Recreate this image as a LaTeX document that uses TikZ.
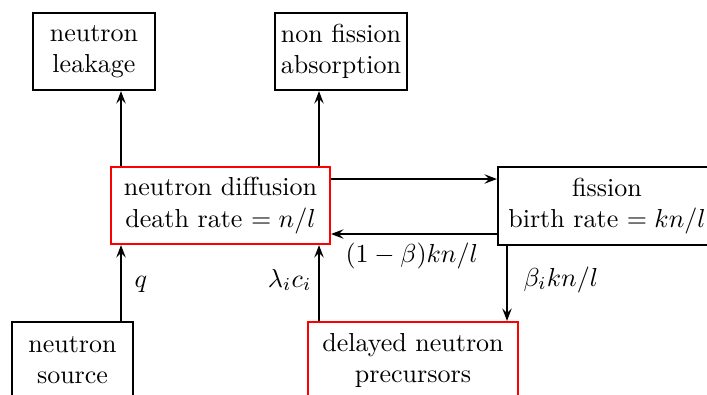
\documentclass[tikz,border=0pt]{standalone}
\usetikzlibrary{arrows.meta}
\newcommand{\pxu}{0.3846pt}
\begin{document}
\begin{tikzpicture}[x=0.3846pt,y=-0.3846pt,
  box/.style={draw, line width=0.8pt, align=center, inner sep=0pt, minimum height={77*\pxu}},
  redbox/.style={box, draw=red},
  arr/.style={line width=0.8pt, -{Stealth[length=4.8pt,width=3.6pt,inset=1.8pt]}},
  lab/.style={inner sep=0pt}]
\useasboundingbox (0,0) rectangle (707,394);
\clip (0,0) rectangle (707,394);
\node[box, minimum width={122*\pxu}] (leak) at (94,51.5) {neutron\\leakage};
\node[box, minimum width={132*\pxu}] (abs) at (341,51.5) {non fission\\absorption};
\node[redbox, minimum width={219*\pxu}] (diff) at (220.5,205.5) {neutron diffusion\\death rate $=n/l$};
\node[box, minimum width={218*\pxu}, minimum height={78*\pxu}] (fis) at (607,206) {fission\\birth rate $=kn/l$};
\node[redbox, minimum width={210*\pxu}] (prec) at (413,360.5) {delayed neutron\\precursors};
\node[box, minimum width={121*\pxu}] (src) at (72.5,360.5) {neutron\\source};
\coordinate (xa) at (121,0);
\coordinate (xb) at (319,0);
\coordinate (xc) at (507,0);
\coordinate (ya) at (0,179);
\coordinate (yb) at (0,234);
\draw[arr] (xa |- diff.north) -- (xa |- leak.south);
\draw[arr] (xb |- diff.north) -- (xb |- abs.south);
\draw[arr] (diff.east |- ya) -- (fis.west |- ya);
\draw[arr] (fis.west |- yb) -- (diff.east |- yb);
\draw[arr] (xc |- fis.south) -- (xc |- prec.north);
\draw[arr] (xa |- src.north) -- (xa |- diff.south);
\draw[arr] (xb |- prec.north) -- (xb |- diff.south);
\node[lab, anchor=base west] (lq) at (134,287) {$q$};
\node[lab, anchor=base east] (llc) at (312,287) {$\lambda_i c_i$};
\node[lab, anchor=base west] (lb) at (345,262) {$(1-\beta)kn/l$};
\node[lab, anchor=base west] (lbi) at (523,286) {$\beta_i kn/l$};
\end{tikzpicture}
\end{document}
